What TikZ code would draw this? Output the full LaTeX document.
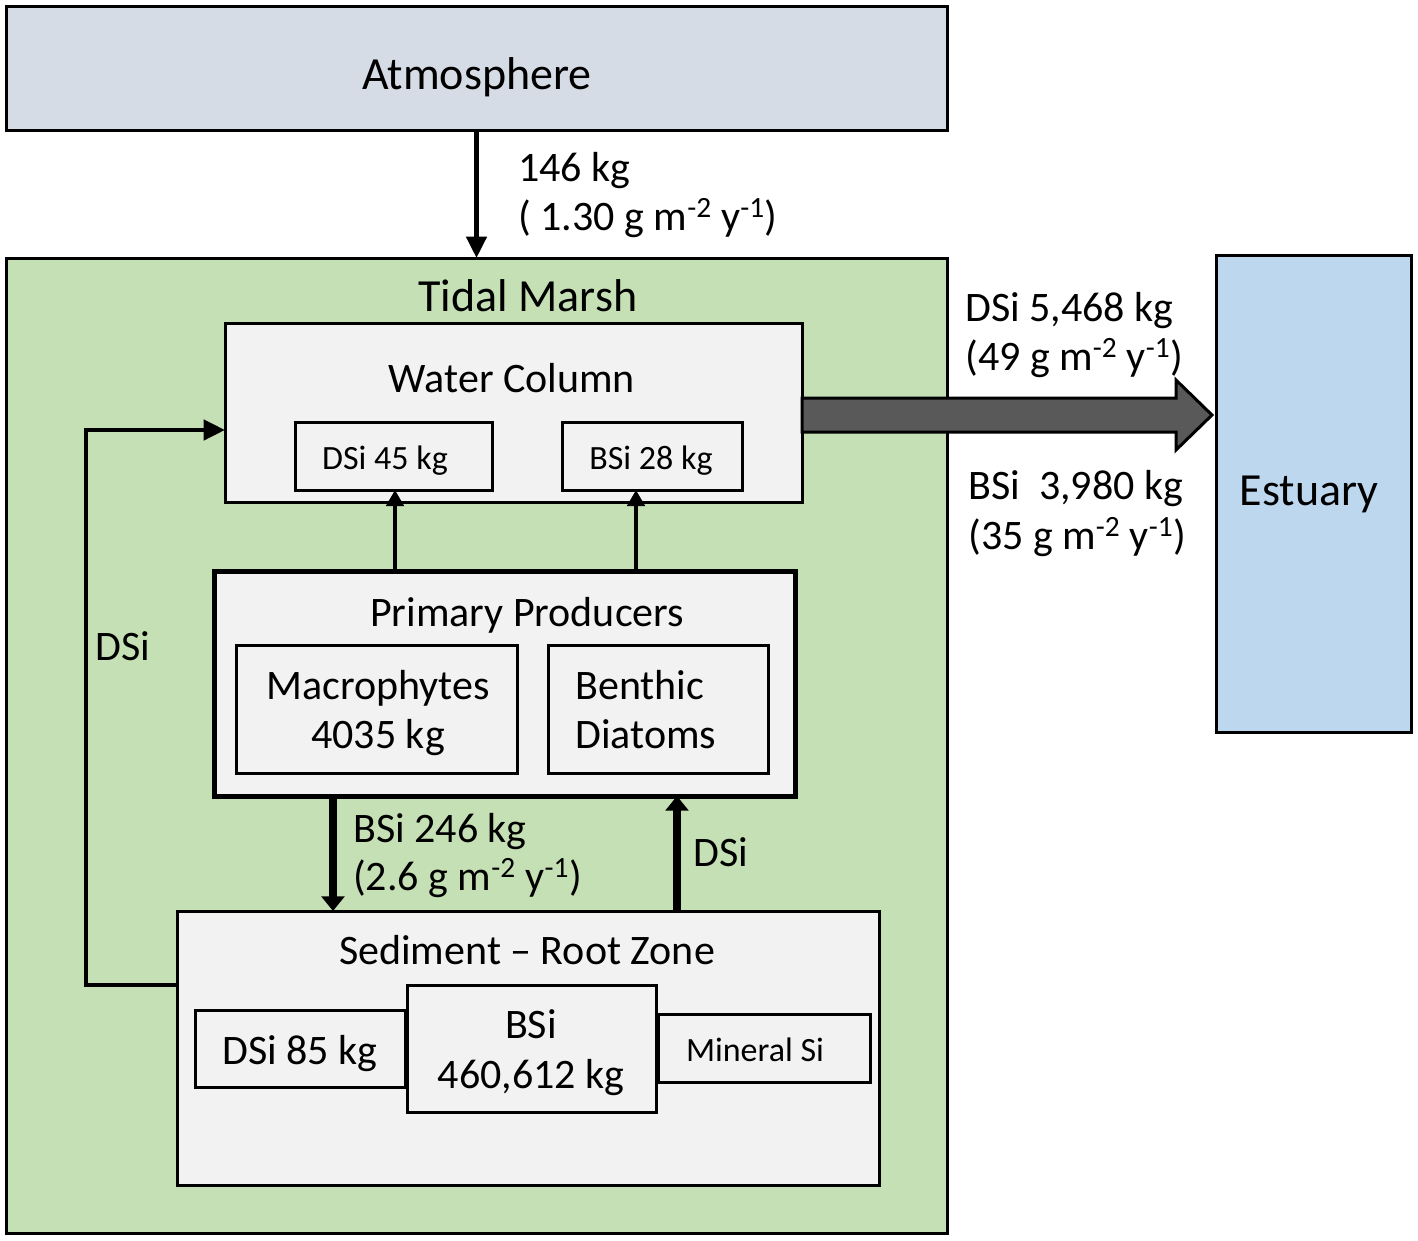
\documentclass[tikz,border=0pt]{standalone}
\usepackage{fontspec}
\setmainfont{Carlito}
\usetikzlibrary{arrows.meta,calc}
\definecolor{atmfill}{HTML}{D6DCE5}
\definecolor{marshfill}{HTML}{C5E0B4}
\definecolor{boxfill}{HTML}{F2F2F2}
\definecolor{estfill}{HTML}{BDD7EE}
\definecolor{arrowfill}{HTML}{595959}
\tikzset{
  box/.style={draw=black, line width=2.25pt, inner sep=0pt, outer sep=0pt, anchor=north west},
  bigfont/.style={font=\fontsize{34.5}{40}\selectfont},
  medfont/.style={font=\fontsize{31.5}{37}\selectfont},
  smallfont/.style={font=\fontsize{25.5}{30}\selectfont},
  txtc/.style={inner sep=0pt, anchor=base},
  txtl/.style={inner sep=0pt, anchor=base west},
  flow/.style={line width=3.4pt, -{Triangle[length=16pt,width=15pt]}},
  thinflow/.style={line width=2.8pt, -{Triangle[length=12pt,width=13pt]}},
  thickflow/.style={line width=6pt, -{Triangle[length=11pt,width=17pt]}},
}
\begin{document}
\begin{tikzpicture}[x=0.75pt,y=-0.75pt]
\useasboundingbox (0,0) rectangle (1418,1240);
% main boxes
\node[box, fill=atmfill, minimum width=941*0.75pt, minimum height=124*0.75pt] (atm) at (6,6) {};
\node[box, fill=marshfill, minimum width=941*0.75pt, minimum height=975*0.75pt] (marsh) at (6,258) {};
\node[box, fill=estfill, minimum width=195*0.75pt, minimum height=477*0.75pt] (est) at (1216,255) {};
\node[box, fill=boxfill, minimum width=577*0.75pt, minimum height=179*0.75pt] (wc) at (225,323) {};
\node[box, fill=boxfill, minimum width=197*0.75pt, minimum height=68*0.75pt] (dsiwc) at (295,422) {};
\node[box, fill=boxfill, minimum width=180*0.75pt, minimum height=68*0.75pt] (bsiwc) at (562,422) {};
\node[box, fill=boxfill, line width=3.75pt, minimum width=581*0.75pt, minimum height=225*0.75pt] (pp) at (214,571) {};
\node[box, fill=boxfill, minimum width=281*0.75pt, minimum height=128*0.75pt] (mac) at (236,645) {};
\node[box, fill=boxfill, minimum width=220*0.75pt, minimum height=128*0.75pt] (ben) at (548,645) {};
\node[box, fill=boxfill, minimum width=702*0.75pt, minimum height=274*0.75pt] (sed) at (177,911) {};
\node[box, fill=boxfill, minimum width=210*0.75pt, minimum height=77*0.75pt] (dsised) at (195,1010) {};
\node[box, fill=boxfill, minimum width=249*0.75pt, minimum height=127*0.75pt] (bsised) at (407,985) {};
\node[box, fill=boxfill, minimum width=212*0.75pt, minimum height=68*0.75pt] (minsed) at (658,1014) {};
% big export arrow
\draw[line width=2.25pt, fill=arrowfill, line join=miter]
  (wc.east |- 0,398) -- (1176,398) -- (1176,380) -- ([xshift=-3pt]est.west |- 0,415) -- (1176,450) -- (1176,432) -- (wc.east |- 0,432) -- cycle;
% connectors
\draw[flow] (atm.south) -- (marsh.north);
\draw[thinflow] (pp.north -| 395,0) -- (dsiwc.south -| 395,0);
\draw[thinflow] (pp.north -| 636,0) -- (bsiwc.south -| 636,0);
\draw[thickflow] (pp.south -| 333,0) -- (sed.north -| 333,0);
\draw[thickflow] (sed.north -| 677,0) -- (pp.south -| 677,0);
\draw[flow] (sed.west |- 0,985) -- ++(-91,0) |- (wc.west |- 0,430);
% texts
\node[bigfont,txtc] (tatm) at (477,89) {Atmosphere};
\node[medfont,txtl] (l146a) at (518,181) {146 kg};
\node[medfont,txtl] (l146b) at (518,230) {( 1.30 g m\textsuperscript{-2} y\textsuperscript{-1})};
\node[bigfont,txtc] (tmarsh) at (528,311) {Tidal Marsh};
\node[medfont,txtc] (twc) at (512,392) {Water Column};
\node[smallfont,txtc] (tdsiwc) at (385,469) {DSi 45 kg};
\node[smallfont,txtc] (tbsiwc) at (651,469) {BSi 28 kg};
\node[medfont,txtl] (ldsia) at (965,321) {DSi 5,468 kg};
\node[medfont,txtl] (ldsib) at (965,370) {(49 g m\textsuperscript{-2} y\textsuperscript{-1})};
\node[medfont,txtl] (lbsia) at (968,499) {BSi\ \ 3,980 kg};
\node[medfont,txtl] (lbsib) at (968,549) {(35 g m\textsuperscript{-2} y\textsuperscript{-1})};
\node[bigfont,txtc] (test) at (1309,505) {Estuary};
\node[medfont,txtc] (tpp) at (527,626) {Primary Producers};
\node[medfont,txtc] (tmaca) at (378,699) {Macrophytes};
\node[medfont,txtc] (tmacb) at (378,748) {4035 kg};
\node[medfont,txtl] (tbena) at (575,699) {Benthic};
\node[medfont,txtl] (tbenb) at (575,748) {Diatoms};
\node[medfont,txtl] (lloop) at (95,660) {DSi};
\node[medfont,txtl] (lbsidn) at (353,842) {BSi 246 kg};
\node[medfont,txtl] (lbsidnb) at (353,890) {(2.6 g m\textsuperscript{-2} y\textsuperscript{-1})};
\node[medfont,txtl] (ldsiup) at (693,866) {DSi};
\node[medfont,txtc] (tsed) at (527,964) {Sediment – Root Zone};
\node[medfont,txtc] (tdsised) at (300,1064) {DSi 85 kg};
\node[medfont,txtc] (tbsiseda) at (531,1038) {BSi};
\node[medfont,txtc] (tbsisedb) at (531,1088) {460,612 kg};
\node[smallfont,txtc] (tminsed) at (755,1061) {Mineral Si};
\end{tikzpicture}
\end{document}
